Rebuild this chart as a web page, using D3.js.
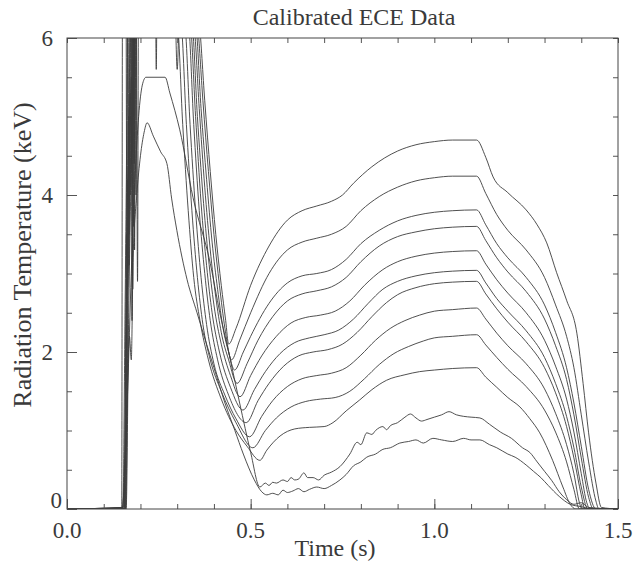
<!DOCTYPE html>
<html>
<head>
<meta charset="utf-8">
<script src="https://cdn.jsdelivr.net/npm/d3@7"></script>
<style>
  body { margin: 0; background: #fff; }
  text { font-family: "Liberation Serif", "DejaVu Serif", serif; fill: #3a3a3a; }
</style>
</head>
<body>
<svg id="chart" width="638" height="561"></svg>
<script>
// ECE channels, [time (s), radiation temperature (keV)], top trace first
const ch1 = [[0,0],[0.149,0.02],[0.151,6.5],[0.16,7.5],[0.163,3.2],[0.166,7.5],[0.3,7.5],[0.36,6.2],[0.375,5.2],[0.39,4.3],[0.405,3.5],[0.42,2.85],[0.432,2.4],[0.44,2.1],
  [0.46,2.3],[0.5,2.85],[0.55,3.35],[0.6,3.68],[0.64,3.8],[0.68,3.86],[0.72,3.92],[0.75,4.0],[0.78,4.15],[0.83,4.36],[0.9,4.56],[0.95,4.64],[1.0,4.68],[1.05,4.7],[1.115,4.7],
  [1.14,4.48],[1.16,4.23],[1.2,4.03],[1.25,3.81],[1.28,3.62],[1.306,3.39],[1.333,3.01],[1.36,2.66],[1.388,2.24],[1.405,1.6],[1.42,0.97],[1.44,0.33],[1.455,0.02],[1.5,0]];
const ch2 = [[0,0],[0.152,0.02],[0.158,2.5],[0.163,5.0],[0.166,6.8],[0.169,3.1],[0.172,6.8],[0.29,7.2],[0.3,5.6],[0.31,7.2],[0.355,6.2],[0.37,5.2],[0.385,4.3],[0.4,3.5],[0.415,2.85],[0.43,2.3],[0.448,1.9],
  [0.47,2.15],[0.5,2.5],[0.55,3.0],[0.6,3.3],[0.64,3.4],[0.68,3.45],[0.72,3.5],[0.76,3.6],[0.8,3.8],[0.85,3.98],[0.9,4.1],[0.95,4.18],[1.0,4.22],[1.05,4.24],[1.115,4.24],
  [1.14,4.02],[1.17,3.75],[1.2,3.55],[1.25,3.3],[1.3,2.95],[1.33,2.6],[1.36,2.2],[1.38,1.8],[1.4,1.2],[1.42,0.6],[1.44,0.1],[1.448,0],[1.5,0]];
const ch3 = [[0,0],[0.154,0.02],[0.158,1.0],[0.162,3.5],[0.165,2.8],[0.17,5.5],[0.174,7],[0.177,2.4],[0.18,7],[0.2,8],[0.23,7.5],[0.35,6.2],[0.365,5.1],[0.38,4.2],[0.395,3.4],[0.41,2.8],[0.425,2.3],[0.44,2.0],[0.456,1.77],
  [0.48,2.0],[0.5,2.2],[0.55,2.62],[0.6,2.88],[0.64,2.97],[0.68,3.0],[0.72,3.05],[0.76,3.18],[0.8,3.38],[0.85,3.55],[0.9,3.67],[0.95,3.74],[1.0,3.78],[1.05,3.8],[1.115,3.81],
  [1.14,3.62],[1.17,3.38],[1.2,3.2],[1.25,2.95],[1.3,2.6],[1.33,2.25],[1.36,1.8],[1.38,1.35],[1.4,0.8],[1.42,0.25],[1.44,0],[1.5,0]];
const ch4 = [[0,0],[0.155,0],[0.16,2],[0.166,4.2],[0.169,3.5],[0.173,6.0],[0.178,7],[0.181,3.6],[0.184,7],[0.25,7.5],[0.345,6.2],[0.36,5.1],[0.375,4.1],[0.39,3.3],[0.405,2.7],[0.42,2.25],[0.44,1.9],[0.463,1.6],
  [0.49,1.85],[0.52,2.15],[0.56,2.45],[0.6,2.65],[0.64,2.74],[0.68,2.78],[0.72,2.83],[0.76,2.95],[0.8,3.15],[0.85,3.35],[0.9,3.47],[0.95,3.53],[1.0,3.57],[1.05,3.59],[1.115,3.6],
  [1.14,3.42],[1.17,3.2],[1.2,3.02],[1.25,2.77],[1.3,2.42],[1.33,2.08],[1.36,1.65],[1.38,1.2],[1.4,0.65],[1.42,0.15],[1.433,0],[1.5,0]];
const ch5 = [[0,0],[0.156,0],[0.161,2.2],[0.168,5],[0.172,4.1],[0.176,6.5],[0.179,2.8],[0.182,6.5],[0.24,7],[0.243,5.6],[0.246,7],[0.34,6.2],[0.355,5.0],[0.37,4.0],[0.385,3.2],[0.4,2.6],[0.42,2.1],[0.445,1.7],[0.471,1.43],
  [0.5,1.7],[0.53,1.95],[0.57,2.2],[0.61,2.37],[0.65,2.44],[0.69,2.47],[0.73,2.52],[0.77,2.65],[0.81,2.85],[0.86,3.05],[0.9,3.15],[0.95,3.22],[1.0,3.26],[1.05,3.28],[1.115,3.29],
  [1.14,3.12],[1.17,2.92],[1.2,2.75],[1.25,2.5],[1.3,2.15],[1.33,1.82],[1.36,1.4],[1.38,0.98],[1.4,0.45],[1.415,0.08],[1.425,0],[1.5,0]];
const ch6 = [[0,0],[0.157,0],[0.163,2.6],[0.17,4.8],[0.173,4.0],[0.177,5.8],[0.18,7],[0.183,4.4],[0.186,7],[0.335,6.2],[0.35,5.0],[0.365,3.9],[0.38,3.1],[0.395,2.5],[0.415,2.0],[0.445,1.55],[0.479,1.26],
  [0.51,1.52],[0.54,1.75],[0.58,1.98],[0.62,2.12],[0.66,2.18],[0.7,2.22],[0.74,2.28],[0.78,2.42],[0.82,2.62],[0.86,2.8],[0.9,2.9],[0.95,2.97],[1.0,3.01],[1.05,3.03],[1.115,3.04],
  [1.14,2.88],[1.17,2.68],[1.2,2.52],[1.25,2.27],[1.3,1.93],[1.33,1.6],[1.36,1.18],[1.38,0.78],[1.4,0.28],[1.418,0],[1.5,0]];
const ch7 = [[0,0],[0.158,0],[0.164,2.8],[0.172,5.3],[0.176,4.4],[0.182,7],[0.184,3.3],[0.187,7],[0.33,6.2],[0.345,4.9],[0.36,3.8],[0.375,3.0],[0.39,2.4],[0.41,1.9],[0.44,1.45],[0.488,1.1],
  [0.52,1.38],[0.55,1.6],[0.59,1.82],[0.63,1.95],[0.67,2.0],[0.71,2.03],[0.75,2.1],[0.79,2.25],[0.83,2.45],[0.87,2.63],[0.9,2.73],[0.95,2.82],[1.0,2.87],[1.05,2.89],[1.115,2.9],
  [1.14,2.74],[1.17,2.55],[1.2,2.38],[1.25,2.13],[1.3,1.8],[1.33,1.48],[1.36,1.05],[1.38,0.65],[1.4,0.18],[1.41,0],[1.5,0]];
const ch8 = [[0,0],[0.159,0],[0.166,3.2],[0.173,5.0],[0.178,4.6],[0.185,7],[0.188,4.0],[0.19,7],[0.32,6.2],[0.335,4.9],[0.35,3.8],[0.365,2.95],[0.38,2.35],[0.4,1.85],[0.43,1.45],[0.46,1.15],[0.497,0.92],
  [0.53,1.18],[0.56,1.38],[0.6,1.56],[0.64,1.66],[0.68,1.7],[0.72,1.73],[0.76,1.8],[0.8,1.96],[0.84,2.15],[0.88,2.3],[0.92,2.4],[0.96,2.47],[1.0,2.52],[1.05,2.54],[1.115,2.56],
  [1.14,2.42],[1.17,2.24],[1.2,2.08],[1.25,1.85],[1.3,1.53],[1.33,1.22],[1.36,0.82],[1.38,0.45],[1.395,0.08],[1.402,0],[1.5,0]];
const ch9 = [[0,0],[0.16,0],[0.167,3.0],[0.175,5.5],[0.18,5.0],[0.188,7],[0.192,2.9],[0.195,7],[0.31,6.2],[0.325,4.9],[0.34,3.8],[0.355,2.95],[0.37,2.35],[0.39,1.9],[0.42,1.5],[0.46,1.1],[0.506,0.78],
  [0.54,1.0],[0.57,1.16],[0.61,1.3],[0.65,1.37],[0.69,1.4],[0.73,1.42],[0.77,1.5],[0.81,1.66],[0.85,1.84],[0.89,1.98],[0.93,2.07],[0.97,2.14],[1.0,2.18],[1.05,2.2],[1.115,2.22],
  [1.14,2.09],[1.17,1.93],[1.2,1.78],[1.25,1.56],[1.3,1.26],[1.33,0.98],[1.36,0.6],[1.38,0.25],[1.395,0],[1.5,0]];
const ch10 = [[0,0],[0.161,0],[0.168,2.5],[0.176,4.6],[0.182,5.6],[0.19,7],[0.3,6.2],[0.315,4.9],[0.33,3.8],[0.345,2.95],[0.362,2.4],[0.385,1.9],[0.42,1.4],[0.46,1.0],[0.49,0.8],[0.525,0.62],
  [0.544,0.75],[0.58,0.93],[0.62,1.02],[0.66,1.04],[0.7,1.05],[0.724,1.1],[0.76,1.25],[0.797,1.39],[0.83,1.52],[0.87,1.64],[0.92,1.71],[0.96,1.75],[1.0,1.77],[1.05,1.79],[1.115,1.8],
  [1.14,1.68],[1.17,1.55],[1.2,1.42],[1.233,1.3],[1.26,1.15],[1.287,0.97],[1.322,0.62],[1.35,0.28],[1.37,0.06],[1.385,0],[1.5,0]];
const ch11 = [[0,0],[0.15,0],[0.165,1.5],[0.175,3],[0.185,4.2],[0.195,5],[0.205,5.4],[0.215,5.5],[0.267,5.5],[0.28,5.3],[0.307,4.83],[0.343,3.97],[0.39,3.13],[0.416,2.5],[0.44,2.0],[0.47,1.35],[0.5,0.72],[0.525,0.28],
  [0.54,0.33],[0.55,0.3],[0.56,0.34],[0.57,0.33],[0.588,0.37],[0.6,0.35],[0.61,0.4],[0.62,0.37],[0.63,0.38],[0.645,0.46],[0.655,0.4],[0.67,0.4],[0.685,0.37],[0.7,0.43],[0.72,0.47],[0.743,0.54],[0.77,0.7],[0.79,0.85],[0.8,0.82],[0.816,0.97],[0.83,0.95],[0.84,1.0],[0.86,1.05],[0.87,1.01],[0.88,1.06],[0.9,1.1],
  [0.92,1.17],[0.935,1.21],[0.95,1.16],[0.965,1.12],[0.98,1.14],[1.0,1.17],[1.02,1.2],[1.04,1.24],[1.06,1.2],[1.08,1.18],[1.1,1.17],[1.124,1.16],
  [1.15,1.08],[1.18,0.98],[1.21,0.9],[1.24,0.78],[1.26,0.72],[1.28,0.6],[1.3,0.48],[1.32,0.36],[1.34,0.22],[1.36,0.12],[1.38,0.06],[1.4,0.08],[1.42,0.02],[1.5,0]];
const ch12 = [[0,0],[0.15,0],[0.16,0.8],[0.17,2.2],[0.175,1.9],[0.18,3.2],[0.19,4.0],[0.2,4.5],[0.21,4.8],[0.218,4.92],[0.235,4.75],[0.255,4.55],[0.272,4.4],[0.285,3.95],[0.299,3.55],[0.327,2.92],
  [0.354,2.5],[0.38,2.1],[0.4,1.8],[0.43,1.35],[0.457,1.0],[0.48,0.7],[0.51,0.37],[0.53,0.22],[0.544,0.18],
  [0.56,0.2],[0.575,0.18],[0.588,0.24],[0.6,0.21],[0.615,0.23],[0.63,0.26],[0.645,0.22],[0.66,0.25],[0.68,0.28],[0.7,0.26],[0.72,0.3],[0.743,0.37],[0.76,0.44],[0.78,0.55],[0.8,0.6],[0.816,0.66],[0.84,0.7],[0.86,0.76],[0.88,0.78],[0.906,0.84],[0.93,0.86],[0.95,0.88],[0.97,0.84],[0.996,0.9],[1.02,0.88],[1.05,0.86],[1.08,0.9],[1.1,0.88],[1.124,0.88],
  [1.15,0.82],[1.17,0.78],[1.2,0.7],[1.22,0.66],[1.25,0.56],[1.27,0.48],[1.29,0.4],[1.31,0.3],[1.34,0.16],[1.37,0.06],[1.4,0.03],[1.43,0],[1.5,0]];
const channels = [ch1, ch2, ch3, ch4, ch5, ch6, ch7, ch8, ch9, ch10, ch11, ch12];

const xTicks = [0, 0.5, 1.0, 1.5];
const yTicks = [0, 2, 4, 6];

const svg = d3.select("#chart");
const margin = { top: 38, right: 20, bottom: 52, left: 67 };
const width = 638 - margin.left - margin.right;
const height = 561 - margin.top - margin.bottom;

const x = d3.scaleLinear().domain([0, 1.5]).range([0, width]);
const y = d3.scaleLinear().domain([0, 6]).range([height, 0]);

const g = svg.append("g").attr("transform", `translate(${margin.left},${margin.top})`);

g.append("clipPath").attr("id", "plot-clip")
  .append("rect").attr("width", width).attr("height", height);

// traces
const line = d3.line().x(d => x(d[0])).y(d => y(d[1])).curve(d3.curveMonotoneX);
g.append("g").attr("clip-path", "url(#plot-clip)")
  .selectAll("path")
  .data(channels)
  .join("path")
  .attr("d", line)
  .attr("fill", "none")
  .attr("stroke", "#3c3c3c")
  .attr("stroke-width", 0.9);

// frame with inward ticks on all four sides
const minorX = d3.range(0, 1.501, 0.1);
const minorY = d3.range(0, 6.001, 0.5);
const axisStyle = sel => {
  sel.select(".domain").remove();
  sel.selectAll("line").attr("stroke", "#555");
  sel.selectAll("text").remove();
};
g.append("g").attr("transform", `translate(0,${height})`)
  .call(d3.axisBottom(x).tickValues(minorX).tickSize(-5)).call(axisStyle);
g.append("g")
  .call(d3.axisTop(x).tickValues(minorX).tickSize(-5)).call(axisStyle);
g.append("g")
  .call(d3.axisLeft(y).tickValues(minorY).tickSize(-5)).call(axisStyle);
g.append("g").attr("transform", `translate(${width},0)`)
  .call(d3.axisRight(y).tickValues(minorY).tickSize(-5)).call(axisStyle);
g.append("g").attr("transform", `translate(0,${height})`)
  .call(d3.axisBottom(x).tickValues(xTicks).tickSize(-10)).call(axisStyle);
g.append("g")
  .call(d3.axisLeft(y).tickValues(yTicks).tickSize(-10)).call(axisStyle);

g.append("rect")
  .attr("width", width).attr("height", height)
  .attr("fill", "none").attr("stroke", "#444").attr("stroke-width", 1);

// tick labels
g.selectAll(".xlab").data(xTicks).join("text")
  .attr("x", d => x(d)).attr("y", height + 29)
  .attr("text-anchor", "middle").attr("font-size", 23)
  .text(d => d3.format(".1f")(d));
g.selectAll(".ylab").data(yTicks).join("text")
  .attr("x", d => d === 0 ? -5 : -14).attr("y", d => d === 0 ? y(d) - 1 : y(d) + 8)
  .attr("text-anchor", "end").attr("font-size", 23)
  .text(d => d);

// titles
svg.append("text").attr("x", 354).attr("y", 25)
  .attr("text-anchor", "middle").attr("font-size", 24)
  .text("Calibrated ECE Data");
svg.append("text").attr("x", 335).attr("y", 556)
  .attr("text-anchor", "middle").attr("font-size", 24)
  .text("Time  (s)");
svg.append("text")
  .attr("transform", `translate(31,255) rotate(-90)`)
  .attr("text-anchor", "middle").attr("font-size", 26)
  .text("Radiation Temperature (keV)");
</script>
</body>
</html>
